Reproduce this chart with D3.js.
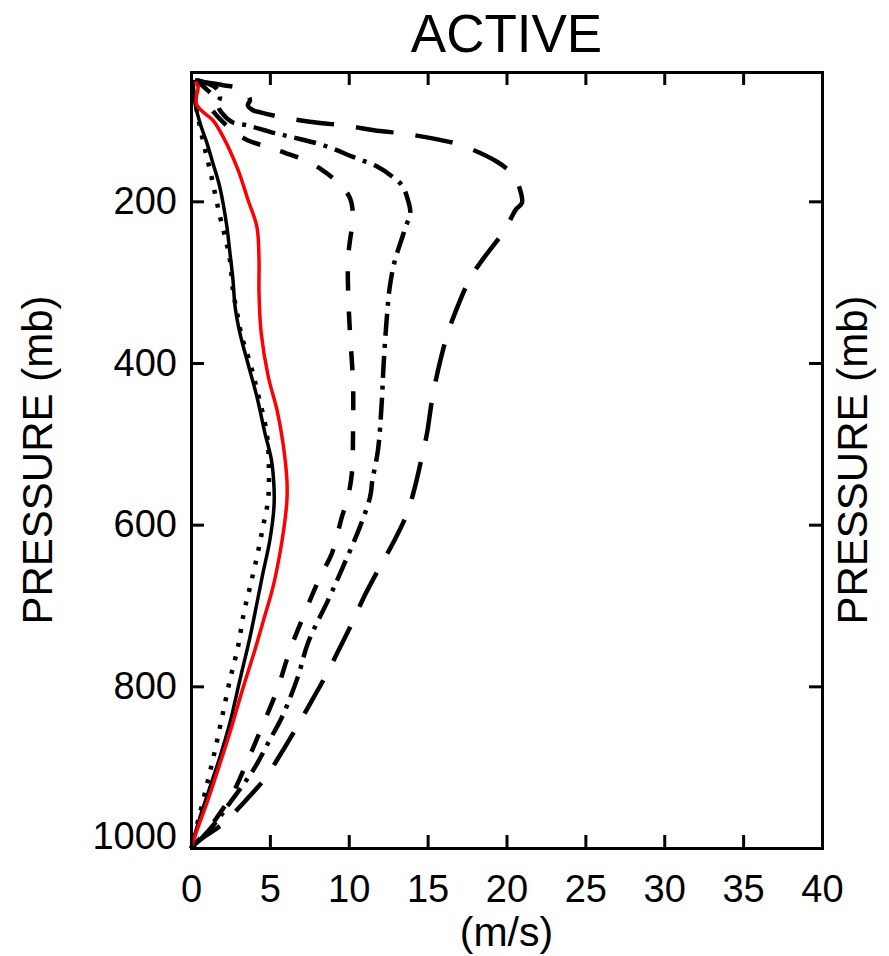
<!DOCTYPE html>
<meta charset="utf-8">
<html>
<style>
  body { margin: 0; background: #fff; font-family: "Liberation Sans", Arial, Helvetica, sans-serif; }
  .axis path, .axis line { stroke: #000; stroke-width: 3px; }
  .axis text { font-size: 38px; fill: #000; font-family: "Liberation Sans", Arial, sans-serif; }
</style>
<body>
<div id="plot"></div>
<script src="https://d3js.org/d3.v7.min.js"></script>
<script>
// ----- data: [pressure (mb), speed (m/s)] -----
const xTicks = [0, 5, 10, 15, 20, 25, 30, 35, 40];
const yTicks = [200, 400, 600, 800, 1000];

const solidBlack = [[50,0.15],[78,0.25],[103,0.57],[128,1.01],[153,1.39],[178,1.77],[202,2.03],[232,2.28],[264,2.47],[297,2.66],[331,2.8],[363,3.1],[400,3.6],[442,4.18],[487,4.69],[520,5.1],[553,5.26],[578,5.26],[619,5.0],[660,4.56],[700,4.15],[739,3.74],[792,3.1],[845,2.47],[887,1.84],[925,1.2],[962,0.57],[1000,0.0]];

const dotted = [[50,0.1],[80,0.3],[108,0.57],[136,0.89],[161,1.2],[190,1.52],[219,1.84],[244,2.16],[273,2.47],[310,2.66],[338,2.92],[368,3.23],[400,3.75],[433,4.18],[487,4.8],[536,4.94],[570,4.88],[603,4.56],[640,4.18],[677,3.74],[709,3.35],[751,2.98],[792,2.47],[838,1.97],[879,1.52],[916,1.08],[957,0.57],[1000,0.0]];

const red = [[52,0.25],[58,0.45],[70,0.35],[80,0.35],[90,0.8],[100,1.4],[120,2.03],[161,2.98],[198,3.61],[232,4.18],[272,4.31],[313,4.31],[363,4.45],[417,4.9],[458,5.45],[499,5.83],[545,6.08],[570,6.08],[603,5.9],[635,5.64],[677,5.2],[718,4.6],[755,4.05],[805,3.25],[858,2.45],[903,1.71],[944,1.01],[978,0.38],[1000,0.0]];

const shortDash = [[50,0.3],[60,0.9],[71,1.4],[81,1.2],[91,1.5],[112,2.6],[124,3.55],[133,4.88],[140,5.96],[149,7.2],[161,8.3],[177,9.32],[196,10.08],[221,10.27],[248,10.08],[273,9.95],[322,9.98],[363,10.08],[425,10.27],[487,10.27],[536,10.2],[570,9.9],[590,9.57],[635,8.94],[665,8.18],[705,7.3],[755,6.28],[805,5.45],[850,4.5],[891,3.61],[932,2.66],[953,1.97],[974,1.2],[1000,0.0]];

const dashDot = [[50,0.4],[60,1.6],[71,1.84],[81,1.7],[91,1.97],[102,2.6],[106,3.55],[114,5.0],[120,6.28],[130,8.3],[145,10.27],[157,11.8],[170,12.8],[181,13.4],[195,13.7],[214,13.9],[232,13.6],[250,13.3],[275,12.9],[306,12.6],[347,12.4],[405,12.2],[446,12.1],[508,11.85],[545,11.5],[566,11.35],[603,10.7],[652,9.64],[693,8.7],[746,7.42],[788,6.78],[838,5.77],[866,5.0],[900,4.06],[922,3.3],[944,2.47],[965,1.7],[990,0.57],[1000,0.0]];

const longDash = [[50,0.25],[53,1.0],[56,1.97],[62,3.4],[68,3.6],[75,3.74],[81,3.6],[87,3.9],[90,4.4],[96,5.77],[103,8.18],[106,9.64],[113,11.98],[116,13.44],[124,15.78],[130,17.05],[151,19.4],[167,20.4],[185,20.85],[202,20.98],[210,20.6],[235,19.9],[273,18.45],[295,17.7],[338,16.74],[368,16.2],[409,15.66],[446,15.28],[487,14.96],[516,14.64],[553,14.2],[586,13.7],[623,12.8],[652,11.98],[690,10.95],[718,10.3],[759,9.26],[784,8.62],[826,7.42],[850,6.72],[889,5.52],[914,4.69],[949,3.1],[968,2.16],[990,0.57],[1000,0.0]];

// ----- layout -----
const W = 889, H = 956;
const margin = {top: 72, right: 67, bottom: 108, left: 191};

const svg = d3.select("#plot").append("svg")
  .attr("width", W).attr("height", H);

const x = d3.scaleLinear().domain([0, 40]).range([margin.left, W - margin.right]);
const y = d3.scaleLinear().domain([40, 1000]).range([margin.top, H - margin.bottom]);

// curves
const line = d3.line()
  .x(d => x(d[1]))
  .y(d => y(d[0]))
  .curve(d3.curveCatmullRom.alpha(0.5));

const series = [
  {data: longDash,   color: "#000", width: 4.5, dash: "38,22"},
  {data: dashDot,    color: "#000", width: 4.5, dash: "22,8,4,8"},
  {data: shortDash,  color: "#000", width: 4.5, dash: "19,21"},
  {data: dotted,     color: "#000", width: 4.5, dash: "4,10"},
  {data: solidBlack, color: "#000", width: 3.5, dash: null},
  {data: red,        color: "#ff0000", width: 3.5, dash: null}
];

svg.append("g").selectAll("path")
  .data(series)
  .join("path")
    .attr("d", d => line(d.data))
    .attr("fill", "none")
    .attr("stroke", d => d.color)
    .attr("stroke-width", d => d.width)
    .attr("stroke-dasharray", d => d.dash)
    .attr("stroke-linejoin", "round");

// axes (ticks inward on all four sides)
const tk = 13;
svg.append("g").attr("class", "axis")
  .attr("transform", "translate(0," + y(1000) + ")")
  .call(d3.axisBottom(x).tickValues(xTicks).tickSize(-tk).tickSizeOuter(0).tickPadding(27));

svg.append("g").attr("class", "axis")
  .attr("transform", "translate(0," + y(40) + ")")
  .call(d3.axisTop(x).tickValues(xTicks).tickSize(-tk).tickSizeOuter(0).tickFormat(""));

const yAxisL = svg.append("g").attr("class", "axis")
  .attr("transform", "translate(" + x(0) + ",0)")
  .call(d3.axisLeft(y).tickValues(yTicks).tickFormat(d3.format("d")).tickSize(-tk).tickSizeOuter(0).tickPadding(14));
yAxisL.selectAll(".tick text").filter(d => d === 1000).attr("dy", "0.0em");

svg.append("g").attr("class", "axis")
  .attr("transform", "translate(" + x(40) + ",0)")
  .call(d3.axisRight(y).tickValues(yTicks).tickSize(-tk).tickSizeOuter(0).tickFormat(""));

svg.selectAll(".axis .domain").attr("stroke-linecap", "square");

// labels
svg.append("text")
  .attr("x", (x(0) + x(40)) / 2).attr("y", 52)
  .attr("text-anchor", "middle")
  .style("font-size", "53px")
  .text("ACTIVE");

svg.append("text")
  .attr("x", (x(0) + x(40)) / 2).attr("y", 946)
  .attr("text-anchor", "middle")
  .style("font-size", "41px")
  .text("(m/s)");

svg.append("text")
  .attr("transform", "translate(52," + (y(40) + y(1000)) / 2 + ") rotate(-90)")
  .attr("text-anchor", "middle")
  .style("font-size", "42px")
  .text("PRESSURE (mb)");

svg.append("text")
  .attr("transform", "translate(867," + (y(40) + y(1000)) / 2 + ") rotate(-90)")
  .attr("text-anchor", "middle")
  .style("font-size", "42px")
  .text("PRESSURE (mb)");
</script>
</body>
</html>
